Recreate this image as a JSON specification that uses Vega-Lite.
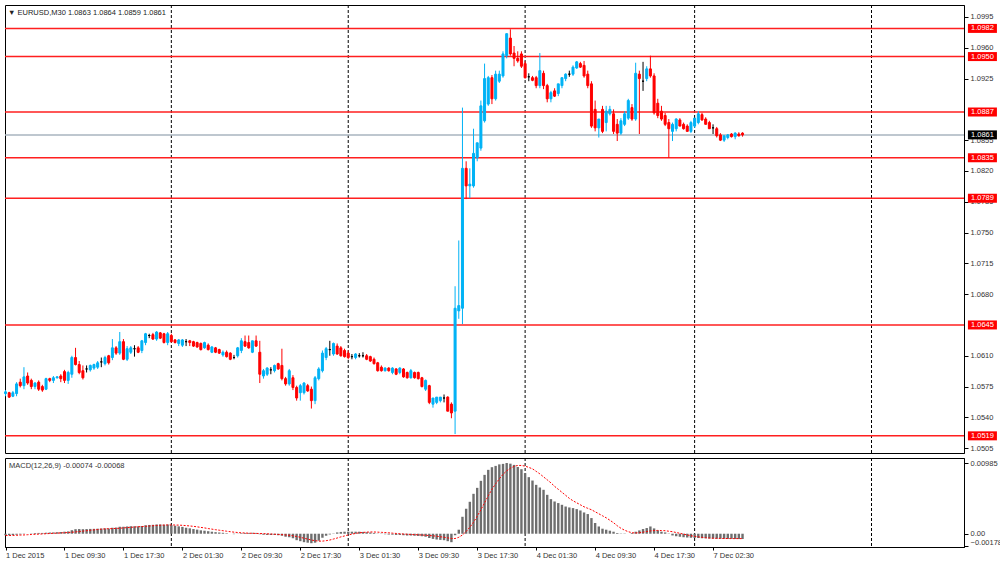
{
"$schema": "https://vega.github.io/schema/vega-lite/v6.json",
"background": "white",
"padding": {"left": 3, "top": 4, "right": 0, "bottom": 0},
"config": {
  "view": {"stroke": "#000000", "strokeWidth": 1},
  "concat": {"spacing": 3},
  "font": "Liberation Sans",
  "axis": {"labelFont": "Liberation Sans", "labelFontSize": 7.5, "labelColor": "#333333", "tickColor": "#000000", "domainColor": "#000000", "grid": false, "tickSize": 4, "labelPadding": 2, "labelOverlap": false}
},
"datasets": {
"seps": [{"i": 45}, {"i": 93}, {"i": 141}, {"i": 187}, {"i": 235}],
"levels": [
{"price": 1.0982, "kind": "level"}, {"price": 1.0950, "kind": "level"}, {"price": 1.0887, "kind": "level"}, {"price": 1.0835, "kind": "level"}, {"price": 1.0789, "kind": "level"}, {"price": 1.0645, "kind": "level"}, {"price": 1.0519, "kind": "level"}, {"price": 1.0861, "kind": "bid"}
],
"bars": [
{"i":0,"o":1.0567,"h":1.0571,"l":1.0564,"c":1.0569,"m":-0.00021,"s":-0.00025},
{"i":1,"o":1.0568,"h":1.0569,"l":1.0562,"c":1.0563,"m":-0.00021,"s":-0.00025},
{"i":2,"o":1.0564,"h":1.0570,"l":1.0563,"c":1.0568,"m":-0.00018,"s":-0.00024},
{"i":3,"o":1.0567,"h":1.0580,"l":1.0564,"c":1.0578,"m":-0.00014,"s":-0.00022},
{"i":4,"o":1.0580,"h":1.0584,"l":1.0574,"c":1.0576,"m":-0.00010,"s":-0.00019},
{"i":5,"o":1.0576,"h":1.0597,"l":1.0572,"c":1.0586,"m":-0.00004,"s":-0.00017},
{"i":6,"o":1.0587,"h":1.0591,"l":1.0577,"c":1.0579,"m":0,"s":-0.00014},
{"i":7,"o":1.0582,"h":1.0584,"l":1.0572,"c":1.0575,"m":0.00004,"s":-0.00011},
{"i":8,"o":1.0575,"h":1.0580,"l":1.0572,"c":1.0579,"m":0.00010,"s":-0.00008},
{"i":9,"o":1.0580,"h":1.0582,"l":1.0570,"c":1.0572,"m":0.00011,"s":-0.00006},
{"i":10,"o":1.0575,"h":1.0577,"l":1.0569,"c":1.0571,"m":0.00011,"s":-0.00003},
{"i":11,"o":1.0572,"h":1.0585,"l":1.0571,"c":1.0584,"m":0.00014,"s":0},
{"i":12,"o":1.0584,"h":1.0585,"l":1.0580,"c":1.0582,"m":0.00017,"s":0.00003},
{"i":13,"o":1.0582,"h":1.0587,"l":1.0579,"c":1.0585,"m":0.00018,"s":0.00006},
{"i":14,"o":1.0585,"h":1.0587,"l":1.0584,"c":1.0586,"m":0.00021,"s":0.00008},
{"i":15,"o":1.0587,"h":1.0589,"l":1.0580,"c":1.0584,"m":0.00024,"s":0.00011},
{"i":16,"o":1.0592,"h":1.0594,"l":1.0579,"c":1.0582,"m":0.00028,"s":0.00014},
{"i":17,"o":1.0582,"h":1.0593,"l":1.0578,"c":1.0591,"m":0.00032,"s":0.00017},
{"i":18,"o":1.0589,"h":1.0610,"l":1.0585,"c":1.0608,"m":0.00049,"s":0.00021},
{"i":19,"o":1.0608,"h":1.0619,"l":1.0599,"c":1.0600,"m":0.00063,"s":0.00025},
{"i":20,"o":1.0600,"h":1.0604,"l":1.0589,"c":1.0591,"m":0.00065,"s":0.00031},
{"i":21,"o":1.0593,"h":1.0599,"l":1.0583,"c":1.0585,"m":0.00063,"s":0.00036},
{"i":22,"o":1.0595,"h":1.0599,"l":1.0591,"c":1.0595,"m":0.00065,"s":0.00042},
{"i":23,"o":1.0594,"h":1.0600,"l":1.0592,"c":1.0599,"m":0.00067,"s":0.00047},
{"i":24,"o":1.0596,"h":1.0601,"l":1.0594,"c":1.0600,"m":0.00068,"s":0.00053},
{"i":25,"o":1.0597,"h":1.0604,"l":1.0595,"c":1.0602,"m":0.00070,"s":0.00058},
{"i":26,"o":1.0603,"h":1.0608,"l":1.0597,"c":1.0603,"m":0.00072,"s":0.00064},
{"i":27,"o":1.0601,"h":1.0610,"l":1.0599,"c":1.0608,"m":0.00074,"s":0.00067},
{"i":28,"o":1.0610,"h":1.0611,"l":1.0600,"c":1.0602,"m":0.00072,"s":0.00070},
{"i":29,"o":1.0608,"h":1.0629,"l":1.0605,"c":1.0619,"m":0.00083,"s":0.00071},
{"i":30,"o":1.0619,"h":1.0621,"l":1.0611,"c":1.0613,"m":0.00086,"s":0.00074},
{"i":31,"o":1.0613,"h":1.0637,"l":1.0611,"c":1.0626,"m":0.00097,"s":0.00076},
{"i":32,"o":1.0626,"h":1.0629,"l":1.0605,"c":1.0606,"m":0.00097,"s":0.00081},
{"i":33,"o":1.0606,"h":1.0621,"l":1.0604,"c":1.0618,"m":0.00101,"s":0.00085},
{"i":34,"o":1.0614,"h":1.0621,"l":1.0612,"c":1.0619,"m":0.00104,"s":0.00089},
{"i":35,"o":1.0618,"h":1.0622,"l":1.0609,"c":1.0618,"m":0.00104,"s":0.00093},
{"i":36,"o":1.0619,"h":1.0621,"l":1.0613,"c":1.0614,"m":0.00103,"s":0.00097},
{"i":37,"o":1.0616,"h":1.0628,"l":1.0613,"c":1.0627,"m":0.00108,"s":0.00100},
{"i":38,"o":1.0625,"h":1.0636,"l":1.0622,"c":1.0635,"m":0.00118,"s":0.00103},
{"i":39,"o":1.0633,"h":1.0635,"l":1.0630,"c":1.0633,"m":0.00122,"s":0.00107},
{"i":40,"o":1.0634,"h":1.0636,"l":1.0628,"c":1.0629,"m":0.00124,"s":0.00111},
{"i":41,"o":1.0629,"h":1.0638,"l":1.0627,"c":1.0637,"m":0.00129,"s":0.00115},
{"i":42,"o":1.0636,"h":1.0637,"l":1.0629,"c":1.0630,"m":0.00129,"s":0.00118},
{"i":43,"o":1.0635,"h":1.0636,"l":1.0624,"c":1.0625,"m":0.00125,"s":0.00121},
{"i":44,"o":1.0625,"h":1.0637,"l":1.0622,"c":1.0635,"m":0.00128,"s":0.00122},
{"i":45,"o":1.0633,"h":1.0635,"l":1.0625,"c":1.0626,"m":0.00120,"s":0.00122},
{"i":46,"o":1.0628,"h":1.0629,"l":1.0624,"c":1.0625,"m":0.00111,"s":0.00121},
{"i":47,"o":1.0624,"h":1.0629,"l":1.0621,"c":1.0628,"m":0.00103,"s":0.00120},
{"i":48,"o":1.0622,"h":1.0629,"l":1.0620,"c":1.0628,"m":0.00095,"s":0.00117},
{"i":49,"o":1.0626,"h":1.0629,"l":1.0621,"c":1.0626,"m":0.00083,"s":0.00113},
{"i":50,"o":1.0627,"h":1.0628,"l":1.0621,"c":1.0625,"m":0.00075,"s":0.00108},
{"i":51,"o":1.0626,"h":1.0627,"l":1.0620,"c":1.0621,"m":0.00065,"s":0.00103},
{"i":52,"o":1.0625,"h":1.0626,"l":1.0619,"c":1.0620,"m":0.00057,"s":0.00096},
{"i":53,"o":1.0624,"h":1.0625,"l":1.0616,"c":1.0617,"m":0.00047,"s":0.00088},
{"i":54,"o":1.0619,"h":1.0626,"l":1.0618,"c":1.0625,"m":0.00042,"s":0.00081},
{"i":55,"o":1.0622,"h":1.0624,"l":1.0616,"c":1.0617,"m":0.00035,"s":0.00072},
{"i":56,"o":1.0614,"h":1.0621,"l":1.0613,"c":1.0620,"m":0.00028,"s":0.00064},
{"i":57,"o":1.0619,"h":1.0620,"l":1.0613,"c":1.0614,"m":0.00022,"s":0.00056},
{"i":58,"o":1.0617,"h":1.0618,"l":1.0612,"c":1.0613,"m":0.00017,"s":0.00049},
{"i":59,"o":1.0611,"h":1.0616,"l":1.0609,"c":1.0614,"m":0.00013,"s":0.00042},
{"i":60,"o":1.0614,"h":1.0616,"l":1.0608,"c":1.0609,"m":0.00007,"s":0.00035},
{"i":61,"o":1.0613,"h":1.0614,"l":1.0605,"c":1.0606,"m":0,"s":0.00028},
{"i":62,"o":1.0608,"h":1.0611,"l":1.0606,"c":1.0608,"m":-0.00006,"s":0.00022},
{"i":63,"o":1.0610,"h":1.0620,"l":1.0608,"c":1.0619,"m":-0.00003,"s":0.00017},
{"i":64,"o":1.0616,"h":1.0630,"l":1.0613,"c":1.0627,"m":0.00008,"s":0.00013},
{"i":65,"o":1.0626,"h":1.0633,"l":1.0620,"c":1.0621,"m":0.00011,"s":0.00010},
{"i":66,"o":1.0625,"h":1.0633,"l":1.0618,"c":1.0619,"m":0.00011,"s":0.00007},
{"i":67,"o":1.0614,"h":1.0627,"l":1.0613,"c":1.0627,"m":0.00013,"s":0.00006},
{"i":68,"o":1.0627,"h":1.0633,"l":1.0620,"c":1.0621,"m":0.00011,"s":0.00004},
{"i":69,"o":1.0614,"h":1.0627,"l":1.0579,"c":1.0589,"m":-0.00007,"s":0.00003},
{"i":70,"o":1.0587,"h":1.0595,"l":1.0584,"c":1.0593,"m":-0.00014,"s":0.00001},
{"i":71,"o":1.0589,"h":1.0597,"l":1.0587,"c":1.0596,"m":-0.00017,"s":-0.00001},
{"i":72,"o":1.0594,"h":1.0597,"l":1.0589,"c":1.0594,"m":-0.00018,"s":-0.00004},
{"i":73,"o":1.0593,"h":1.0600,"l":1.0591,"c":1.0599,"m":-0.00018,"s":-0.00007},
{"i":74,"o":1.0601,"h":1.0602,"l":1.0594,"c":1.0595,"m":-0.00021,"s":-0.00010},
{"i":75,"o":1.0599,"h":1.0618,"l":1.0582,"c":1.0584,"m":-0.00028,"s":-0.00013},
{"i":76,"o":1.0584,"h":1.0586,"l":1.0576,"c":1.0578,"m":-0.00042,"s":-0.00017},
{"i":77,"o":1.0578,"h":1.0595,"l":1.0576,"c":1.0593,"m":-0.00049,"s":-0.00022},
{"i":78,"o":1.0585,"h":1.0588,"l":1.0571,"c":1.0574,"m":-0.00063,"s":-0.00029},
{"i":79,"o":1.0574,"h":1.0576,"l":1.0559,"c":1.0562,"m":-0.00090,"s":-0.00039},
{"i":80,"o":1.0568,"h":1.0578,"l":1.0559,"c":1.0576,"m":-0.00104,"s":-0.00050},
{"i":81,"o":1.0568,"h":1.0580,"l":1.0566,"c":1.0579,"m":-0.00118,"s":-0.00063},
{"i":82,"o":1.0576,"h":1.0578,"l":1.0569,"c":1.0570,"m":-0.00125,"s":-0.00075},
{"i":83,"o":1.0572,"h":1.0575,"l":1.0550,"c":1.0559,"m":-0.00132,"s":-0.00088},
{"i":84,"o":1.0559,"h":1.0587,"l":1.0555,"c":1.0585,"m":-0.00125,"s":-0.00097},
{"i":85,"o":1.0584,"h":1.0597,"l":1.0582,"c":1.0595,"m":-0.00097,"s":-0.00103},
{"i":86,"o":1.0593,"h":1.0616,"l":1.0591,"c":1.0613,"m":-0.00056,"s":-0.00103},
{"i":87,"o":1.0608,"h":1.0620,"l":1.0605,"c":1.0618,"m":-0.00028,"s":-0.00097},
{"i":88,"o":1.0617,"h":1.0627,"l":1.0610,"c":1.0617,"m":-0.00010,"s":-0.00088},
{"i":89,"o":1.0612,"h":1.0625,"l":1.0610,"c":1.0624,"m":0.00004,"s":-0.00074},
{"i":90,"o":1.0621,"h":1.0624,"l":1.0611,"c":1.0612,"m":0.00018,"s":-0.00060},
{"i":91,"o":1.0619,"h":1.0621,"l":1.0609,"c":1.0610,"m":0.00025,"s":-0.00044},
{"i":92,"o":1.0616,"h":1.0618,"l":1.0608,"c":1.0609,"m":0.00028,"s":-0.00031},
{"i":93,"o":1.0613,"h":1.0616,"l":1.0606,"c":1.0608,"m":0.00028,"s":-0.00017},
{"i":94,"o":1.0609,"h":1.0612,"l":1.0606,"c":1.0609,"m":0.00028,"s":-0.00006},
{"i":95,"o":1.0608,"h":1.0613,"l":1.0606,"c":1.0612,"m":0.00028,"s":0.00004},
{"i":96,"o":1.0610,"h":1.0613,"l":1.0608,"c":1.0610,"m":0.00028,"s":0.00013},
{"i":97,"o":1.0610,"h":1.0614,"l":1.0608,"c":1.0610,"m":0.00025,"s":0.00018},
{"i":98,"o":1.0610,"h":1.0612,"l":1.0605,"c":1.0606,"m":0.00021,"s":0.00022},
{"i":99,"o":1.0609,"h":1.0610,"l":1.0603,"c":1.0604,"m":0.00017,"s":0.00024},
{"i":100,"o":1.0606,"h":1.0608,"l":1.0600,"c":1.0601,"m":0.00011,"s":0.00024},
{"i":101,"o":1.0602,"h":1.0603,"l":1.0592,"c":1.0593,"m":0.00003,"s":0.00022},
{"i":102,"o":1.0597,"h":1.0599,"l":1.0592,"c":1.0593,"m":-0.00004,"s":0.00019},
{"i":103,"o":1.0593,"h":1.0597,"l":1.0592,"c":1.0596,"m":-0.00007,"s":0.00017},
{"i":104,"o":1.0596,"h":1.0597,"l":1.0592,"c":1.0593,"m":-0.00011,"s":0.00013},
{"i":105,"o":1.0591,"h":1.0597,"l":1.0589,"c":1.0596,"m":-0.00013,"s":0.00008},
{"i":106,"o":1.0595,"h":1.0596,"l":1.0588,"c":1.0589,"m":-0.00017,"s":0.00004},
{"i":107,"o":1.0591,"h":1.0597,"l":1.0589,"c":1.0596,"m":-0.00017,"s":0},
{"i":108,"o":1.0595,"h":1.0596,"l":1.0585,"c":1.0586,"m":-0.00021,"s":-0.00004},
{"i":109,"o":1.0591,"h":1.0592,"l":1.0584,"c":1.0585,"m":-0.00025,"s":-0.00007},
{"i":110,"o":1.0585,"h":1.0595,"l":1.0584,"c":1.0593,"m":-0.00025,"s":-0.00010},
{"i":111,"o":1.0591,"h":1.0592,"l":1.0584,"c":1.0585,"m":-0.00028,"s":-0.00013},
{"i":112,"o":1.0591,"h":1.0592,"l":1.0583,"c":1.0584,"m":-0.00031,"s":-0.00015},
{"i":113,"o":1.0585,"h":1.0586,"l":1.0574,"c":1.0575,"m":-0.00035,"s":-0.00018},
{"i":114,"o":1.0572,"h":1.0583,"l":1.0570,"c":1.0582,"m":-0.00042,"s":-0.00021},
{"i":115,"o":1.0576,"h":1.0577,"l":1.0555,"c":1.0557,"m":-0.00060,"s":-0.00025},
{"i":116,"o":1.0555,"h":1.0562,"l":1.0551,"c":1.0562,"m":-0.00072,"s":-0.00029},
{"i":117,"o":1.0557,"h":1.0563,"l":1.0555,"c":1.0563,"m":-0.00081,"s":-0.00035},
{"i":118,"o":1.0559,"h":1.0563,"l":1.0557,"c":1.0563,"m":-0.00086,"s":-0.00042},
{"i":119,"o":1.0562,"h":1.0566,"l":1.0557,"c":1.0562,"m":-0.00090,"s":-0.00050},
{"i":120,"o":1.0563,"h":1.0564,"l":1.0547,"c":1.0547,"m":-0.00104,"s":-0.00058},
{"i":121,"o":1.0555,"h":1.0557,"l":1.0539,"c":1.0545,"m":-0.00118,"s":-0.00067},
{"i":122,"o":1.0547,"h":1.0689,"l":1.0521,"c":1.0664,"m":-0.00021,"s":-0.00067},
{"i":123,"o":1.0661,"h":1.0741,"l":1.0652,"c":1.0667,"m":0.00056,"s":-0.00050},
{"i":124,"o":1.0664,"h":1.0892,"l":1.0646,"c":1.0823,"m":0.00236,"s":-0.00017},
{"i":125,"o":1.0823,"h":1.0831,"l":1.0788,"c":1.0803,"m":0.00348,"s":0.00031},
{"i":126,"o":1.0803,"h":1.0823,"l":1.0789,"c":1.0805,"m":0.00445,"s":0.00090},
{"i":127,"o":1.0803,"h":1.0868,"l":1.0801,"c":1.0840,"m":0.00556,"s":0.00160},
{"i":128,"o":1.0835,"h":1.0852,"l":1.0831,"c":1.0852,"m":0.00639,"s":0.00243},
{"i":129,"o":1.0846,"h":1.0900,"l":1.0843,"c":1.0894,"m":0.00737,"s":0.00334},
{"i":130,"o":1.0877,"h":1.0942,"l":1.0875,"c":1.0925,"m":0.00820,"s":0.00431},
{"i":131,"o":1.0896,"h":1.0928,"l":1.0894,"c":1.0926,"m":0.00890,"s":0.00528},
{"i":132,"o":1.0926,"h":1.0929,"l":1.0896,"c":1.0902,"m":0.00927,"s":0.00619},
{"i":133,"o":1.0902,"h":1.0934,"l":1.0900,"c":1.0930,"m":0.00945,"s":0.00695},
{"i":134,"o":1.0922,"h":1.0934,"l":1.0920,"c":1.0930,"m":0.00966,"s":0.00765},
{"i":135,"o":1.0928,"h":1.0956,"l":1.0926,"c":1.0953,"m":0.00973,"s":0.00827},
{"i":136,"o":1.0951,"h":1.0976,"l":1.0948,"c":1.0976,"m":0.00985,"s":0.00876},
{"i":137,"o":1.0971,"h":1.0981,"l":1.0951,"c":1.0953,"m":0.00976,"s":0.00913},
{"i":138,"o":1.0954,"h":1.0962,"l":1.0939,"c":1.0948,"m":0.00959,"s":0.00938},
{"i":139,"o":1.0948,"h":1.0956,"l":1.0943,"c":1.0945,"m":0.00931,"s":0.00951},
{"i":140,"o":1.0953,"h":1.0956,"l":1.0937,"c":1.0939,"m":0.00899,"s":0.00951},
{"i":141,"o":1.0942,"h":1.0945,"l":1.0925,"c":1.0926,"m":0.00844,"s":0.00942},
{"i":142,"o":1.0927,"h":1.0931,"l":1.0922,"c":1.0927,"m":0.00788,"s":0.00924},
{"i":143,"o":1.0926,"h":1.0928,"l":1.0922,"c":1.0923,"m":0.00741,"s":0.00904},
{"i":144,"o":1.0926,"h":1.0928,"l":1.0914,"c":1.0917,"m":0.00681,"s":0.00869},
{"i":145,"o":1.0917,"h":1.0954,"l":1.0914,"c":1.0934,"m":0.00644,"s":0.00834},
{"i":146,"o":1.0931,"h":1.0934,"l":1.0913,"c":1.0917,"m":0.00612,"s":0.00792},
{"i":147,"o":1.0917,"h":1.0919,"l":1.0898,"c":1.0902,"m":0.00542,"s":0.00751},
{"i":148,"o":1.0902,"h":1.0911,"l":1.0898,"c":1.0909,"m":0.00482,"s":0.00709},
{"i":149,"o":1.0911,"h":1.0914,"l":1.0904,"c":1.0905,"m":0.00449,"s":0.00660},
{"i":150,"o":1.0908,"h":1.0919,"l":1.0905,"c":1.0919,"m":0.00427,"s":0.00619},
{"i":151,"o":1.0917,"h":1.0926,"l":1.0914,"c":1.0926,"m":0.00403,"s":0.00577},
{"i":152,"o":1.0925,"h":1.0931,"l":1.0922,"c":1.0930,"m":0.00379,"s":0.00535},
{"i":153,"o":1.0930,"h":1.0934,"l":1.0927,"c":1.0930,"m":0.00366,"s":0.00493},
{"i":154,"o":1.0930,"h":1.0940,"l":1.0928,"c":1.0938,"m":0.00357,"s":0.00459},
{"i":155,"o":1.0937,"h":1.0945,"l":1.0936,"c":1.0944,"m":0.00343,"s":0.00431},
{"i":156,"o":1.0942,"h":1.0944,"l":1.0937,"c":1.0938,"m":0.00324,"s":0.00403},
{"i":157,"o":1.0940,"h":1.0945,"l":1.0926,"c":1.0928,"m":0.00296,"s":0.00375},
{"i":158,"o":1.0930,"h":1.0934,"l":1.0914,"c":1.0917,"m":0.00274,"s":0.00354},
{"i":159,"o":1.0919,"h":1.0922,"l":1.0869,"c":1.0871,"m":0.00218,"s":0.00334},
{"i":160,"o":1.0890,"h":1.0900,"l":1.0865,"c":1.0869,"m":0.00149,"s":0.00306},
{"i":161,"o":1.0869,"h":1.0879,"l":1.0858,"c":1.0879,"m":0.00101,"s":0.00278},
{"i":162,"o":1.0890,"h":1.0894,"l":1.0863,"c":1.0865,"m":0.00070,"s":0.00250},
{"i":163,"o":1.0875,"h":1.0894,"l":1.0865,"c":1.0888,"m":0.00056,"s":0.00222},
{"i":164,"o":1.0885,"h":1.0894,"l":1.0883,"c":1.0890,"m":0.00042,"s":0.00188},
{"i":165,"o":1.0885,"h":1.0890,"l":1.0862,"c":1.0865,"m":0.00028,"s":0.00153},
{"i":166,"o":1.0873,"h":1.0879,"l":1.0854,"c":1.0863,"m":0.00010,"s":0.00111},
{"i":167,"o":1.0863,"h":1.0880,"l":1.0861,"c":1.0877,"m":-0.00004,"s":0.00076},
{"i":168,"o":1.0873,"h":1.0888,"l":1.0871,"c":1.0885,"m":-0.00004,"s":0.00049},
{"i":169,"o":1.0880,"h":1.0902,"l":1.0878,"c":1.0900,"m":0,"s":0.00028},
{"i":170,"o":1.0892,"h":1.0896,"l":1.0877,"c":1.0879,"m":0.00010,"s":0.00014},
{"i":171,"o":1.0879,"h":1.0943,"l":1.0877,"c":1.0931,"m":0.00028,"s":0.00010},
{"i":172,"o":1.0930,"h":1.0934,"l":1.0862,"c":1.0925,"m":0.00046,"s":0.00014},
{"i":173,"o":1.0922,"h":1.0944,"l":1.0911,"c":1.0922,"m":0.00065,"s":0.00021},
{"i":174,"o":1.0925,"h":1.0939,"l":1.0922,"c":1.0936,"m":0.00079,"s":0.00031},
{"i":175,"o":1.0936,"h":1.0951,"l":1.0926,"c":1.0928,"m":0.00101,"s":0.00039},
{"i":176,"o":1.0928,"h":1.0931,"l":1.0884,"c":1.0886,"m":0.00074,"s":0.00044},
{"i":177,"o":1.0897,"h":1.0902,"l":1.0880,"c":1.0883,"m":0.00046,"s":0.00046},
{"i":178,"o":1.0888,"h":1.0894,"l":1.0877,"c":1.0879,"m":0.00028,"s":0.00044},
{"i":179,"o":1.0883,"h":1.0886,"l":1.0871,"c":1.0873,"m":0.00018,"s":0.00042},
{"i":180,"o":1.0875,"h":1.0879,"l":1.0835,"c":1.0868,"m":0.00004,"s":0.00035},
{"i":181,"o":1.0865,"h":1.0875,"l":1.0854,"c":1.0873,"m":-0.00024,"s":0.00028},
{"i":182,"o":1.0868,"h":1.0880,"l":1.0865,"c":1.0879,"m":-0.00035,"s":0.00017},
{"i":183,"o":1.0878,"h":1.0880,"l":1.0871,"c":1.0871,"m":-0.00042,"s":0.00006},
{"i":184,"o":1.0873,"h":1.0875,"l":1.0867,"c":1.0868,"m":-0.00049,"s":-0.00006},
{"i":185,"o":1.0871,"h":1.0873,"l":1.0865,"c":1.0865,"m":-0.00053,"s":-0.00017},
{"i":186,"o":1.0865,"h":1.0877,"l":1.0863,"c":1.0875,"m":-0.00056,"s":-0.00028},
{"i":187,"o":1.0871,"h":1.0880,"l":1.0869,"c":1.0880,"m":-0.00058,"s":-0.00036},
{"i":188,"o":1.0875,"h":1.0888,"l":1.0873,"c":1.0885,"m":-0.00060,"s":-0.00044},
{"i":189,"o":1.0884,"h":1.0886,"l":1.0877,"c":1.0878,"m":-0.00063,"s":-0.00050},
{"i":190,"o":1.0879,"h":1.0881,"l":1.0873,"c":1.0873,"m":-0.00064,"s":-0.00056},
{"i":191,"o":1.0875,"h":1.0877,"l":1.0868,"c":1.0868,"m":-0.00067,"s":-0.00060},
{"i":192,"o":1.0869,"h":1.0873,"l":1.0862,"c":1.0869,"m":-0.00068,"s":-0.00063},
{"i":193,"o":1.0868,"h":1.0870,"l":1.0858,"c":1.0860,"m":-0.00070,"s":-0.00064},
{"i":194,"o":1.0861,"h":1.0863,"l":1.0854,"c":1.0855,"m":-0.00070,"s":-0.00065},
{"i":195,"o":1.0855,"h":1.0860,"l":1.0853,"c":1.0860,"m":-0.00071,"s":-0.00067},
{"i":196,"o":1.0858,"h":1.0862,"l":1.0856,"c":1.0861,"m":-0.00072,"s":-0.00067},
{"i":197,"o":1.0862,"h":1.0863,"l":1.0858,"c":1.0859,"m":-0.00072,"s":-0.00068},
{"i":198,"o":1.0859,"h":1.0864,"l":1.0856,"c":1.0863,"m":-0.00074,"s":-0.00068},
{"i":199,"o":1.0862,"h":1.0864,"l":1.0859,"c":1.0860,"m":-0.00074,"s":-0.00068},
{"i":200,"o":1.0863,"h":1.0864,"l":1.0859,"c":1.0861,"m":-0.00074,"s":-0.00068}
]
},
"vconcat": [
{
  "width": 959,
  "height": 448,
  "resolve": {"axis": {"x": "independent", "y": "independent"}},
  "layer": [
    {
      "data": {"name": "seps"},
      "mark": {"type": "rule", "color": "#000000", "strokeWidth": 1, "strokeDash": [3, 2]},
      "encoding": {
        "x": {"field": "i", "type": "quantitative", "scale": {"domain": [-0.14, 260.1], "nice": false, "zero": false, "padding": 0}, "axis": null}
      }
    },
    {
      "data": {"name": "levels"},
      "mark": {"type": "rule", "strokeWidth": 1.5},
      "encoding": {
        "y": {"field": "price", "type": "quantitative", "scale": {"domain": [1.04995, 1.10086], "nice": false, "zero": false},
              "axis": {"orient": "right", "title": null, "labelOverlap": false, "labelBound": false, "values": [1.0505, 1.0540, 1.0575, 1.0610, 1.0680, 1.0715, 1.0750, 1.0785, 1.0820, 1.0855, 1.0925, 1.0960, 1.0995], "format": ".4f"}},
        "color": {"condition": {"test": "datum.kind == 'bid'", "value": "#A9B4BF"}, "value": "#FF1F1F"}
      }
    },
    {
      "data": {"name": "bars"},
      "mark": {"type": "rule", "strokeWidth": 1},
      "encoding": {
        "x": {"field": "i", "type": "quantitative", "axis": null},
        "y": {"field": "l", "type": "quantitative", "axis": null},
        "y2": {"field": "h"},
        "color": {"condition": [{"test": "datum.c > datum.o", "value": "#00B2F5"}, {"test": "datum.c < datum.o", "value": "#FF0000"}], "value": "#000000"}
      }
    },
    {
      "data": {"name": "bars"},
      "mark": {"type": "bar", "width": 2, "strokeWidth": 1},
      "encoding": {
        "x": {"field": "i", "type": "quantitative", "axis": null},
        "y": {"field": "o", "type": "quantitative", "axis": null},
        "y2": {"field": "c"},
        "fill": {"condition": [{"test": "datum.c > datum.o", "value": "#00B2F5"}, {"test": "datum.c < datum.o", "value": "#FF0000"}], "value": "#000000"},
        "stroke": {"condition": [{"test": "datum.c > datum.o", "value": "#00B2F5"}, {"test": "datum.c < datum.o", "value": "#FF0000"}], "value": "#000000"}
      }
    },
    {
      "data": {"name": "levels"},
      "mark": {"type": "tick", "orient": "horizontal", "size": 29, "thickness": 9, "opacity": 1},
      "encoding": {
        "x": {"datum": 265.1, "type": "quantitative", "axis": null},
        "y": {"field": "price", "type": "quantitative", "axis": null},
        "color": {"condition": {"test": "datum.kind == 'bid'", "value": "#000000"}, "value": "#FF0000"}
      }
    },
    {
      "data": {"name": "levels"},
      "mark": {"type": "text", "fontSize": 7.5, "font": "Liberation Sans", "color": "#FFFFFF", "align": "center", "baseline": "middle"},
      "encoding": {
        "x": {"datum": 265.1, "type": "quantitative", "axis": null},
        "y": {"field": "price", "type": "quantitative", "axis": null},
        "text": {"field": "price", "type": "quantitative", "format": ".4f"}
      }
    },
    {
      "data": {"values": [{"t": "▼  EURUSD,M30  1.0863 1.0864 1.0859 1.0861"}]},
      "mark": {"type": "text", "fontSize": 7.5, "font": "Liberation Sans", "color": "#222222", "align": "left", "baseline": "top", "dx": 3, "dy": 4},
      "encoding": {
        "x": {"datum": -0.14, "type": "quantitative", "axis": null},
        "y": {"datum": 1.10086, "type": "quantitative", "axis": null},
        "text": {"field": "t", "type": "nominal"}
      }
    }
  ]
},
{
  "width": 959,
  "height": 89,
  "resolve": {"axis": {"x": "independent", "y": "independent"}},
  "layer": [
    {
      "data": {"name": "seps"},
      "mark": {"type": "rule", "color": "#000000", "strokeWidth": 1, "strokeDash": [3, 2]},
      "encoding": {
        "x": {"field": "i", "type": "quantitative", "scale": {"domain": [-0.14, 260.1], "nice": false, "zero": false, "padding": 0},
              "axis": {"title": null, "labelOverlap": false, "values": [0, 16, 32, 48, 64, 80, 96, 112, 128, 144, 160, 176, 192], "labelExpr": "['1 Dec 2015','1 Dec 09:30','1 Dec 17:30','2 Dec 01:30','2 Dec 09:30','2 Dec 17:30','3 Dec 01:30','3 Dec 09:30','3 Dec 17:30','4 Dec 01:30','4 Dec 09:30','4 Dec 17:30','7 Dec 02:30'][datum.value / 16]", "labelAlign": "left", "labelBaseline": "top", "labelPadding": 1, "tickSize": 3}}
      }
    },
    {
      "data": {"name": "bars"},
      "mark": {"type": "bar", "width": 2.4, "color": "#6E6E6E"},
      "encoding": {
        "x": {"field": "i", "type": "quantitative", "axis": null},
        "y": {"field": "m", "type": "quantitative", "scale": {"domain": [-0.00185, 0.01055], "nice": false, "zero": false},
              "axis": {"orient": "right", "title": null, "labelOverlap": false, "values": [0.00985, 0, -0.00178], "labelExpr": "datum.value == 0 ? '0.00' : format(datum.value, '.5f')",
                       "labelBaseline": {"condition": {"test": "datum.value < 0", "value": "bottom"}, "value": "middle"}}},
        "y2": {"datum": 0}
      }
    },
    {
      "data": {"name": "bars"},
      "mark": {"type": "line", "color": "#FF0000", "strokeWidth": 1, "strokeDash": [2, 1.5]},
      "encoding": {
        "x": {"field": "i", "type": "quantitative", "axis": null},
        "y": {"field": "s", "type": "quantitative", "axis": null}
      }
    },
    {
      "data": {"values": [{"t": "MACD(12,26,9) -0.00074 -0.00068"}]},
      "mark": {"type": "text", "fontSize": 7.5, "font": "Liberation Sans", "color": "#333333", "align": "left", "baseline": "top", "dx": 4, "dy": 4},
      "encoding": {
        "x": {"datum": -0.14, "type": "quantitative", "axis": null},
        "y": {"datum": 0.01055, "type": "quantitative", "axis": null},
        "text": {"field": "t", "type": "nominal"}
      }
    }
  ]
}
]
}
